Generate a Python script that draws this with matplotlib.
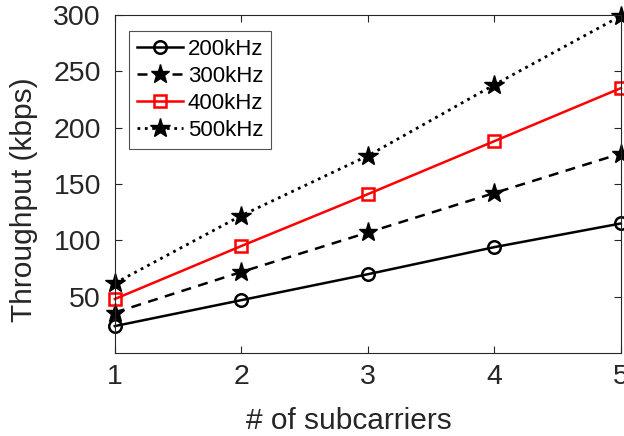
import numpy as np
import matplotlib
matplotlib.use('Agg')
import matplotlib.pyplot as plt

# --- data ---
subcarriers = [1, 2, 3, 4, 5]
thr_200 = [24, 47, 70, 94, 115]
thr_300 = [36, 72, 107, 142, 177]
thr_400 = [48, 95, 141, 188, 235]
thr_500 = [62, 122, 175, 238, 299]
labels = ['200kHz', '300kHz', '400kHz', '500kHz']
y_ticks = [50, 100, 150, 200, 250, 300]

plt.rcParams['font.family'] = ['Liberation Sans', 'DejaVu Sans']
text_col = '#262626'

fig = plt.figure(figsize=(6.24, 4.36), dpi=100)
ax = fig.add_axes([0.184, 0.19, 0.811, 0.776])

lw = 1.8
ax.plot(subcarriers, thr_200, '-', color='black', lw=lw, marker='o',
        ms=9, mfc='none', mew=1.8, label=labels[0], clip_on=False)
ax.plot(subcarriers, thr_300, '--', color='black', lw=lw, marker='*',
        ms=14, mfc='black', label=labels[1], clip_on=False, dashes=(4, 3))
ax.plot(subcarriers, thr_400, '-', color='red', lw=lw, marker='s',
        ms=8, mfc='none', mew=1.8, label=labels[2], clip_on=False)
ax.plot(subcarriers, thr_500, ':', color='black', lw=2.0, marker='*',
        ms=15, mfc='black', label=labels[3], clip_on=False)

ax.set_xlim(1, 5)
ax.set_ylim(0, 300)
ax.set_xticks(subcarriers)
ax.set_yticks(y_ticks)
ax.tick_params(direction='in', top=True, right=True, labelsize=20.5,
               colors=text_col, length=5, width=0.8)
ax.tick_params(axis='y', pad=10)
ax.tick_params(axis='x', pad=8)
for sp in ax.spines.values():
    sp.set_color(text_col)
    sp.set_linewidth(0.8)

# label positions follow the reference (slightly off-centre)
ax.set_xlabel('# of subcarriers', fontsize=21.5, color=text_col)
ax.set_ylabel('Throughput (kbps)', fontsize=21.5, color=text_col)
ax.xaxis.set_label_coords(0.462, -0.16)
ax.yaxis.set_label_coords(-0.152, 0.453)

leg = ax.legend(loc='upper left', fontsize=16, frameon=True, fancybox=False,
                edgecolor=text_col, handlelength=2.1, handletextpad=0.2,
                borderpad=0.35, labelspacing=0.28, borderaxespad=0,
                bbox_to_anchor=(0.028, 0.953))
leg.get_frame().set_linewidth(0.8)

fig.savefig('out.png', dpi=100)
